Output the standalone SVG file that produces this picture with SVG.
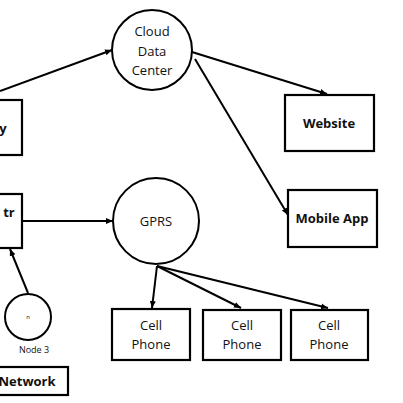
<svg xmlns="http://www.w3.org/2000/svg" width="403" height="403" viewBox="0 0 403 403">
<defs>
<marker id="ah" markerWidth="8" markerHeight="8" refX="7" refY="4" orient="auto" markerUnits="userSpaceOnUse">
<path d="M0,1 L7,4 L0,7 Z" fill="#000"/>
</marker>
<style>
.box{fill:#fff;stroke:#000;stroke-width:2.2}
.c{fill:#fff;stroke:#000;stroke-width:2}
.t{font-family:"Open Sans","Liberation Sans",sans-serif;font-size:13px;fill:#111;text-anchor:middle}
.b{font-weight:bold}
.e{fill:none;stroke:#000;stroke-width:2;marker-end:url(#ah)}
</style>
</defs>
<rect width="403" height="403" fill="#fff"/>
<g id="connectors">
<line class="e" x1="0" y1="91" x2="112" y2="50"/>
<line class="e" x1="192" y1="52" x2="327" y2="94"/>
<line class="e" x1="195" y1="59" x2="288" y2="215"/>
<line class="e" x1="22" y1="221" x2="113" y2="221"/>
<line class="e" x1="28" y1="293" x2="10" y2="249"/>
<line class="e" x1="157" y1="266" x2="152" y2="308"/>
<line class="e" x1="157" y1="266" x2="241" y2="308"/>
<line class="e" x1="157" y1="266" x2="328" y2="308"/>
</g>
<g id="cloud">
<circle class="c" cx="152" cy="50" r="40"/>
<text class="t" x="152" y="36">Cloud</text>
<text class="t" x="152" y="56">Data</text>
<text class="t" x="152" y="75">Center</text>
</g>
<g id="gateway">
<rect class="box" x="-20" y="100" width="42" height="55"/>
<text class="t b" x="3" y="133">y</text>
</g>
<g id="controller">
<rect class="box" x="-20" y="194" width="42" height="54"/>
<text class="t b" x="9" y="217">tr</text>
</g>
<g id="gprs">
<circle class="c" cx="156" cy="221" r="43"/>
<text class="t" x="156" y="226">GPRS</text>
</g>
<g id="node3">
<circle class="c" cx="28" cy="317" r="23"/>
<text class="t" x="28" y="319" style="font-size:6px">n</text>
<text class="t" x="34" y="353" style="font-size:9px">Node 3</text>
</g>
<g id="network">
<rect class="box" x="-20" y="367" width="88" height="28"/>
<text class="t b" x="27" y="386">Network</text>
</g>
<g id="website">
<rect class="box" x="285" y="95" width="89" height="56"/>
<text class="t b" x="329" y="128">Website</text>
</g>
<g id="mobile">
<rect class="box" x="288" y="190" width="89" height="57"/>
<text class="t b" x="332" y="223">Mobile App</text>
</g>
<g id="cell1">
<rect class="box" x="112" y="309" width="78" height="51"/>
<text class="t" x="151" y="330">Cell</text>
<text class="t" x="151" y="349">Phone</text>
</g>
<g id="cell2">
<rect class="box" x="203" y="310" width="78" height="50"/>
<text class="t" x="242" y="330">Cell</text>
<text class="t" x="242" y="349">Phone</text>
</g>
<g id="cell3">
<rect class="box" x="291" y="310" width="77" height="50"/>
<text class="t" x="329" y="330">Cell</text>
<text class="t" x="329" y="349">Phone</text>
</g>
</svg>
